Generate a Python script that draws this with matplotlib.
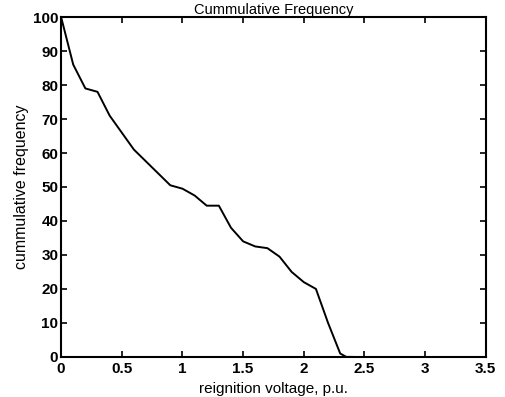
import numpy as np
import matplotlib.pyplot as plt

plt.rcParams['font.family'] = ['Liberation Sans', 'DejaVu Sans']

voltage = [0, 0.1, 0.2, 0.3, 0.4, 0.5, 0.6, 0.7, 0.8, 0.9, 1.0, 1.1, 1.2,
           1.3, 1.4, 1.5, 1.6, 1.7, 1.8, 1.9, 2.0, 2.1, 2.2, 2.3, 2.35, 2.4]
cumfreq = [100, 86, 79, 78, 71, 66, 61, 57.5, 54, 50.5, 49.5, 47.5, 44.5,
           44.5, 38, 34, 32.5, 32, 29.5, 25, 22, 20, 10, 1, 0, 0]

xticks = [0, 0.5, 1, 1.5, 2, 2.5, 3, 3.5]
xticklabels = ['0', '0.5', '1', '1.5', '2', '2.5', '3', '3.5']
yticks = list(range(0, 101, 10))

fig = plt.figure(figsize=(5.05, 3.97), dpi=100)
ax = fig.add_axes([0.121, 0.101, 0.841, 0.856])
ax.plot(voltage, cumfreq, color='black', linewidth=1.4)
ax.set_xlim(0, 3.5)
ax.set_ylim(0, 100)
ax.set_xticks(xticks)
ax.set_xticklabels(xticklabels)
ax.set_yticks(yticks)
ax.tick_params(direction='in', top=True, right=True, length=4, width=1.2,
               labelsize=11)
ax.tick_params(axis='x', pad=4)
ax.tick_params(axis='y', pad=2)
for lbl in ax.get_xticklabels() + ax.get_yticklabels():
    lbl.set_fontweight('bold')
for s in ax.spines.values():
    s.set_linewidth(1.5)
ax.set_xlabel('reignition voltage, p.u.', fontsize=11, labelpad=4)
ax.set_ylabel('cummulative frequency', fontsize=11.5, labelpad=3)
# reference title is clipped at the top edge; keep it just inside
ax.set_title('Cummulative Frequency', fontsize=10.5, pad=2.5)

fig.savefig('out.png', dpi=100)
